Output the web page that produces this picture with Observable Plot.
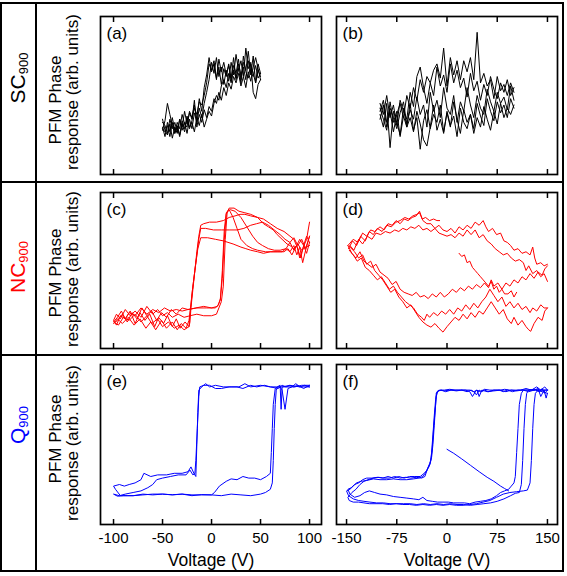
<!DOCTYPE html>
<html><head><meta charset="utf-8">
<script src="https://cdn.jsdelivr.net/npm/d3@7"></script>
<script src="https://cdn.jsdelivr.net/npm/@observablehq/plot@0.6"></script>
<style>
html,body{margin:0;padding:0;background:#fff;}
#fig{position:relative;width:567px;height:576px;font-family:"Liberation Sans",Arial,sans-serif;overflow:hidden;}
.ln{position:absolute;background:#000;}
.rot{position:absolute;transform:translate(-50%,-50%) rotate(-90deg);white-space:nowrap;line-height:1;}
.rot sub{font-size:13px;vertical-align:-3px;}
</style></head><body><div id="fig"></div>
<script>
// ---------- data ----------
const ticksNarrow = [-100, -50, 0, 50, 100];
const ticksWide = [-150, -75, 0, 75, 150];
const panelLetters = ["(a)", "(b)", "(c)", "(d)", "(e)", "(f)"];
const rowNames = ["SC", "NC", "Q"];
const rowSub = "900";
const rowColors = ["#000000", "#ff0000", "#0000ff"];
const yLine1 = "PFM Phase";
const yLine2 = "response (arb. units)";
const xTitle = "Voltage (V)";

// (a) SC900, narrow sweep
const sweepA = [-50,-47.5,-45,-42.5,-40,-37.5,-35,-32.5,-30,-27.5,-25,-22.5,-20,-17.5,-15,-12.5,-10,-7.5,-5,-2.5,0,2.5,5,7.5,10,12.5,15,17.5,20,22.5,25,27.5,30,32.5,35,37.5,40,42.5,45,47.5,50];
const a1 = [30,24,33,27,36,28,31,25,34,29,37,30,33,27,36,31,38,30,35,40,37,45,50,47,56,60,55,64,58,66,61,70,63,68,60,72,65,62,69,61,64];
const a2 = [33,31,26,35,29,33,27,35,30,40,32,39,35,42,38,46,44,50,58,70,66,72,61,68,57,67,62,70,59,69,64,73,60,71,66,78,63,75,58,70,64];
const a3 = [35,28,25,32,23,30,26,35,28,33,26,35,29,39,33,42,36,45,52,60,71,64,74,62,68,57,66,59,71,63,76,66,72,62,80,67,71,52,48,57,60];
const a4 = [29,27,31,24,33,26,30,24,32,27,36,29,34,47,30,38,33,41,36,43,40,48,45,52,47,55,50,58,54,62,58,64,56,62,55,65,59,68,74,67,60];
const a5 = [28,34,45,38,31,26,33,29,38,32,30,40,36,44,35,48,40,55,63,74,65,70,60,73,65,71,63,69,61,74,60,67,58,75,65,61,70,64,58,66,62];

// (b) SC900, wide sweep
const sweepB = [-100,-95,-90,-85,-80,-75,-70,-65,-60,-55,-50,-45,-40,-35,-30,-25,-20,-15,-10,-5,0,5,10,15,20,25,30,35,40,45,50,55,60,65,70,75,80,85,90,95,100];
const b1 = [38,30,45,17,40,33,25,42,30,36,27,40,32,22,18,30,44,28,35,26,40,31,37,24,42,33,29,38,26,36,30,43,35,28,40,32,45,36,42,38,44];
const b2 = [42,35,28,46,33,40,24,37,30,45,28,36,16,34,41,29,38,33,44,27,39,30,46,35,26,41,33,38,29,45,37,31,48,40,34,46,39,44,36,48,42];
const b3 = [45,38,50,36,44,31,47,40,35,52,43,62,68,55,45,58,50,68,56,63,52,70,58,66,55,61,49,64,53,59,47,57,50,62,54,48,58,52,60,50,55];
const b4 = [35,44,30,40,27,38,45,36,50,42,55,47,60,52,62,58,66,70,61,80,56,74,63,72,60,72,65,74,60,90,58,64,56,60,48,62,53,57,50,58,52];
const b5 = [40,47,33,42,36,29,39,46,32,41,35,49,38,44,30,52,40,47,36,55,42,38,50,33,46,40,55,44,36,50,42,38,54,46,40,52,45,49,41,56,47];

// (c) NC900 narrow sweep, [voltage, phase]
const c1 = [[100,81],[97,70],[93,64],[90,58],[87,66],[84,63],[80,68],[76,64],[72,62],[67,62],[60,62],[53,61],[47,62],[40,63],[35,64],[30,65],[22,67],[12,69],[4,70],[-4,71],[-11,71],[-14,64],[-17,50],[-20,35],[-22,22],[-23,14],[-28,12],[-33,15],[-38,13],[-44,17],[-50,14],[-55,19],[-61,16],[-66,21],[-72,17],[-78,22],[-84,18],[-90,20],[-95,15],[-100,17],[-96,20],[-92,24],[-88,19],[-84,23],[-78,21],[-72,26],[-66,22],[-60,25],[-54,23],[-48,26],[-42,24],[-36,25],[-30,24],[-24,25],[-15,26],[-5,26],[4,26],[7,28],[9,32],[11,45],[13,70],[15,86],[18,90],[23,90],[28,88],[34,87],[40,86],[47,84],[53,80],[58,78],[63,76],[67,73],[72,70],[77,67],[80,66],[84,64],[88,67],[92,63],[96,65],[100,66]];
const c2 = [[100,68],[97,72],[94,66],[91,58],[88,64],[84,70],[80,72],[74,75],[67,77],[60,80],[53,83],[47,84],[40,85],[34,86],[29,86],[24,85],[18,84],[12,82],[5,81],[-2,81],[-8,80],[-11,79],[-13,72],[-15,62],[-17,50],[-19,38],[-21,26],[-22,17],[-23,14],[-27,17],[-32,13],[-36,19],[-40,14],[-45,21],[-49,16],[-54,20],[-58,14],[-63,22],[-68,18],[-73,23],[-78,16],[-83,24],[-88,19],[-93,21],[-97,15],[-100,18],[-97,22],[-93,19],[-88,25],[-83,21],[-78,24],[-72,20],[-66,27],[-60,22],[-55,25],[-50,21],[-45,23],[-40,20],[-34,22],[-28,20],[-22,21],[-15,22],[-8,21],[0,21],[5,22],[7.5,26],[10,30],[12,40],[14,70],[16,88],[18,89],[22,84],[26,77],[30,70],[36,66],[42,64],[47,63],[55,62],[63,62],[70,62],[74,62],[78,64],[82,60],[86,65],[90,70],[94,66],[97,61],[100,68]];
const c3 = [[100,72],[96,64],[92,70],[88,66],[84,71],[80,68],[75,70],[70,73],[64,76],[58,79],[52,81],[46,80],[40,79],[33,77],[26,76],[18,76],[10,76],[2,76],[-6,77],[-11,77],[-13,70],[-16,55],[-19,40],[-21,28],[-23,18],[-26,13],[-31,16],[-35,12],[-40,17],[-46,13],[-51,18],[-57,12],[-62,17],[-67,13],[-73,19],[-79,15],[-85,20],[-91,16],[-96,19],[-100,16],[-96,18],[-91,22],[-86,17],[-81,23],[-76,19],[-71,26],[-66,21],[-61,24],[-56,18],[-51,23],[-46,20],[-41,25],[-36,22],[-30,26],[-24,25],[-16,26],[-8,27],[0,26],[6,27],[9,31],[11,50],[13,76],[15,87],[19,89],[24,88],[30,84],[36,78],[42,72],[47,68],[52,66],[58,64],[64,63],[70,63],[76,64],[80,62],[84,66],[87,60],[90,65],[93,55],[96,63],[100,72]];

// (d) NC900 wide sweep
const d1 = [[-148,66],[-140,70],[-133,68],[-126,74],[-120,72],[-114,76],[-108,75],[-100,78],[-94,76],[-88,80],[-82,79],[-76,82],[-70,80],[-64,83],[-58,82],[-52,84],[-46,85],[-41,88],[-37,83],[-32,84],[-26,82],[-20,83],[-15,82],[-11,82]];
const d2 = [[-147,64],[-141,69],[-135,66],[-129,72],[-122,69],[-116,75],[-110,73],[-104,77],[-97,75],[-90,79],[-83,78],[-76,81],[-70,82],[-63,84],[-57,83],[-51,85],[-45,86],[-41,87],[-36,82],[-30,80],[-24,80],[-18,77],[-12,79],[-6,76],[0,75],[6,77],[12,74],[18,78],[24,76],[30,79],[36,77],[42,81],[48,79],[54,82],[58,78],[62,75],[68,77],[74,73],[80,74],[85,69],[90,68],[95,66],[100,63],[106,64],[112,61],[118,62],[124,60],[128,65],[131,58],[134,54],[140,55],[145,53],[150,54]];
const d3 = [[-145,66],[-139,63],[-132,70],[-126,67],[-119,72],[-112,70],[-106,74],[-99,73],[-92,75],[-85,74],[-78,76],[-72,75],[-66,77],[-60,76],[-54,78],[-48,77],[-42,79],[-36,76],[-30,77],[-24,75],[-18,77],[-12,74],[-6,73],[0,72],[6,73],[12,71],[18,74],[24,72],[30,76],[36,73],[42,76],[48,71],[54,73],[60,69],[66,67],[72,64],[78,62],[84,60],[90,61],[96,58],[102,56],[108,57],[114,55],[118,50],[122,53],[128,48],[134,50],[140,46],[145,48],[150,43]];
const d4 = [[-148,66],[-142,61],[-136,58],[-130,62],[-124,56],[-118,54],[-112,52],[-106,54],[-100,49],[-94,47],[-88,45],[-82,41],[-76,43],[-70,38],[-64,36],[-58,35],[-52,34],[-46,36],[-40,33],[-34,34],[-28,32],[-22,35],[-16,33],[-10,36],[-4,33],[2,35],[8,38],[14,36],[20,39],[26,37],[32,40],[38,38],[44,41],[50,39],[56,42],[62,39],[66,44],[70,40],[76,42],[82,38],[88,42],[94,40],[100,44],[106,42],[112,46],[118,44],[124,48],[130,45],[136,49],[142,47],[146,51],[150,53]];
const d5 = [[-146,63],[-140,60],[-134,56],[-128,58],[-122,52],[-116,50],[-110,47],[-104,44],[-98,46],[-92,42],[-86,38],[-80,40],[-74,36],[-68,33],[-62,30],[-56,28],[-50,26],[-44,22],[-38,20],[-34,18],[-30,22],[-26,20],[-20,23],[-14,21],[-8,24],[-2,22],[4,25],[10,22],[16,26],[22,24],[28,28],[34,25],[40,29],[46,26],[52,30],[58,33],[64,38],[70,34],[76,30],[82,33],[88,27],[94,30],[100,26],[106,29],[112,25],[118,27],[124,23],[128,26],[134,24],[140,28],[145,26],[150,26]];
const d6 = [[-145,65],[-138,62],[-132,58],[-126,60],[-120,54],[-114,56],[-108,50],[-102,47],[-96,44],[-90,40],[-84,36],[-78,38],[-72,33],[-66,30],[-60,26],[-54,28],[-48,24],[-42,20],[-36,17],[-30,15],[-24,13.7],[-18,16],[-12,13],[-6,10.5],[0,14],[6,17],[12,20],[18,18],[24,22],[30,19],[36,23],[42,20],[48,24],[54,22],[60,26],[66,30],[72,26],[78,22],[84,25],[90,19],[96,16],[100,20],[106,15],[112,18],[118,14],[122,12],[125,11],[130,16],[136,20],[142,18],[146,24],[150,26]];
const d7 = [[18,61],[22,59],[26,60],[30,55],[34,56],[38,52],[42,50],[46,48],[50,46],[54,44],[58,42],[62,40],[66,43],[70,38],[74,40],[78,36],[82,38],[86,35],[91,35],[96,37],[100,33],[104,36]];

// (e) Q900 narrow sweep
const e1 = [[100,86],[95,87],[90,86],[86,88],[82,86],[78,85],[75,72],[72,84],[70,86],[66,86],[60,86],[50,87],[40,86],[34,88],[28,86],[20,86],[12,86],[4,87],[-2,86],[-6,88],[-10,86],[-13,84],[-14,70],[-15,50],[-16,30],[-18,32],[-21,36],[-24,33],[-30,32],[-38,32],[-46,31],[-55,31],[-62,30],[-69,32],[-72,28],[-78,26],[-84,25],[-89,24],[-94,25],[-100,24],[-98,22],[-93,18],[-86,18],[-80,18],[-70,19],[-60,18.5],[-50,19],[-40,18.5],[-30,19],[-20,18.5],[-10,18.5],[0,18.5],[10,18],[20,19],[30,18.5],[40,18],[50,19],[55,20],[60,22],[62,26],[63,40],[64,60],[65,75],[66,84],[68,86],[72,86],[80,87],[90,86],[100,86]];
const e2 = [[100,87],[94,85],[88,87],[84,86],[80,87],[76,86],[72,87],[70,86],[68,85],[60,86],[54,87],[46,86],[40,87],[32,85],[26,86],[18,86],[10,85],[4,85],[-2,87],[-8,87],[-12,86],[-13,80],[-14.5,60],[-16,40],[-17,32],[-19,31],[-22,34],[-26,31],[-34,31],[-42,30],[-50,29],[-56,28],[-60,25],[-65,23],[-72,21],[-80,20],[-88,19],[-94,18],[-100,19],[-96,17.7],[-90,18],[-80,18],[-70,18.5],[-60,19],[-50,19],[-40,18.6],[-30,19],[-20,18],[-10,18.7],[0,18.5],[3,20],[8,24],[15,27],[20,28.5],[26,28],[32,30],[38,29],[44,29],[50,28],[56,30],[60,32],[61,45],[62,60],[63,75],[65,85],[67,86],[70,87],[71,72],[72,86],[76,86],[85,86],[92,87],[100,87]];

// (f) Q900 wide sweep
const f1 = [[150,84],[146,82],[142,85],[138,83],[132,84],[126,84],[120,84],[112,84],[104,83.5],[96,84],[88,83],[80,84],[70,83.5],[60,83],[52,84],[48,80],[45,84],[40,83],[34,84],[28,84],[20,84],[12,84],[4,84.5],[-4,84],[-10,84],[-14,83],[-16,80],[-18,70],[-20,60],[-22,48],[-24,40],[-27,36],[-31,33],[-36,30],[-42,29],[-50,28.5],[-60,28],[-70,28],[-80,28.5],[-90,28],[-100,28],[-110,28.5],[-120,27.5],[-128,27],[-135,26],[-140,24],[-145,22],[-150,21],[-147,18],[-140,16],[-132,15],[-124,14.5],[-115,14],[-105,13.5],[-95,13.5],[-85,13],[-75,13],[-65,13],[-55,13],[-45,12.5],[-35,13],[-25,12.5],[-15,13],[-5,12.5],[5,13],[15,12.5],[25,12.5],[35,12],[45,12.5],[55,13],[65,13.5],[75,14.5],[85,16],[95,18],[102,19.5],[108,20],[111,25],[113,40],[115,60],[117,75],[119,82],[122,84],[130,84.5],[140,84],[150,84]];
const f2 = [[150,82],[148,79],[145,84],[140,80],[136,85],[130,84],[122,83],[114,84],[106,84],[98,83],[90,84],[84,83],[78,84],[70,84],[62,83],[56,84],[52,83],[48,84],[44,81],[40,83],[36,84],[30,83],[22,84],[14,83.5],[6,84],[-2,83],[-8,84],[-13,83.5],[-16,82],[-17,75],[-19,62],[-21,50],[-23,42],[-26,38],[-30,34],[-34,32],[-40,30],[-48,30],[-56,30],[-64,29],[-72,30],[-80,29],[-88,30],[-96,29],[-104,29.5],[-112,29],[-120,29],[-126,28],[-132,26],[-138,25],[-143,23],[-148,22],[-145,19],[-138,17],[-130,18],[-123,20],[-116,21],[-108,20],[-100,19],[-90,18.5],[-80,17.5],[-70,17],[-60,16.5],[-50,16],[-42,15.5],[-36,17],[-30,15],[-22,14.5],[-14,14],[-6,14],[2,14],[10,13.5],[18,13.5],[26,13.5],[34,13],[42,14],[50,14.5],[58,15],[66,16],[74,18],[80,20],[86,21],[92,22],[96,24],[100,26],[102,30],[104,45],[106,60],[108,75],[111,82],[114,84],[122,84],[132,84],[142,83],[150,82]];
const f3 = [[150,84],[146,86],[140,84],[134,86],[126,84],[118,85],[110,84],[102,84],[94,84],[86,84.5],[80,84],[72,84],[64,84],[56,84.5],[50,83],[44,84],[38,80],[34,83],[28,84],[20,84],[12,84],[4,84],[-4,83.5],[-12,84],[-15,83],[-17,78],[-19,68],[-21,56],[-23,45],[-25,38],[-29,35],[-33,30],[-38,29],[-46,29.5],[-54,29],[-62,29.5],[-70,29],[-78,30],[-86,29],[-94,29],[-102,29.5],[-110,29],[-118,28],[-124,27],[-130,25],[-136,22],[-142,20],[-148,17],[-146,15],[-140,14],[-132,14],[-124,13.5],[-116,13],[-106,13],[-96,13],[-86,12.5],[-76,13],[-66,12.5],[-56,12.5],[-46,12],[-36,12.5],[-26,12],[-16,12.5],[-6,12],[4,12.5],[14,12],[24,12],[34,12.5],[44,13],[54,14],[64,15],[74,17],[84,19],[94,20],[104,20.5],[114,21],[120,21.5],[124,26],[126,40],[128,60],[130,75],[132,82],[136,84],[144,84],[150,84]];
const f4 = [[0,47],[10,44.5],[22,41],[35,37],[48,33],[60,29.5],[70,27],[80,24],[86,22.5],[92,21]];

// ---------- layout ----------
const fig = document.getElementById("fig");
function line(l, t, w, h) {
  const d = document.createElement("div");
  d.className = "ln";
  Object.assign(d.style, {left: l + "px", top: t + "px", width: w + "px", height: h + "px"});
  fig.appendChild(d);
}
// outer border and dividers
line(0, 2, 564, 2); line(0, 570, 564, 2);
line(0, 2, 2, 570); line(562, 2, 2, 570);
line(35, 2, 2, 570);
line(0, 180.5, 564, 2); line(0, 354, 564, 2);

function rotLabel(html, cx, cy, size, color) {
  const d = document.createElement("div");
  d.className = "rot";
  d.innerHTML = html;
  Object.assign(d.style, {left: cx + "px", top: cy + "px", fontSize: size + "px", color});
  fig.appendChild(d);
}
const rowNameY = [78, 267, 425];
const line1Y = [100, 273, 439];
const line2Y = [92, 269, 443];
rowNames.forEach((n, i) => {
  rotLabel(`${n}<sub>${rowSub}</sub>`, 18, rowNameY[i], 21, rowColors[i]);
  rotLabel(yLine1, 55, line1Y[i], 17, "#000");
  rotLabel(yLine2, 72, line2Y[i], 17, "#000");
});

const pairs = (sweep, ys) => ys.map((p, i) => [sweep[i], p]);
const colX = [{left: 100, width: 221, domain: [-113.3, 112.2], ticks: ticksNarrow},
              {left: 336, width: 221, domain: [-165, 165], ticks: ticksWide}];
const rowY = [{top: 16, height: 158}, {top: 192, height: 156}, {top: 364, height: 160}];
const panels = [
  {series: [a1, a2, a3, a4, a5].map(s => pairs(sweepA, s)), color: "#000"},
  {series: [b1, b2, b3, b4, b5].map(s => pairs(sweepB, s)), color: "#000"},
  {series: [c1, c2, c3], color: "#ff0000"},
  {series: [d1, d2, d3, d4, d5, d6, d7], color: "#ff0000"},
  {series: [e1, e2], color: "#0000ff"},
  {series: [f1, f2, f3, f4], color: "#0000ff"}
];

panels.forEach((p, idx) => {
  const r = Math.floor(idx / 2), c = idx % 2;
  const cx = colX[c], ry = rowY[r];
  const bottom = r === 2;
  const mb = bottom ? 52 : 5;
  const rows = p.series.flatMap((s, k) => s.map(([v, ph]) => ({v, ph, k})));
  const marks = [
    Plot.line(rows, {x: "v", y: "ph", z: "k", stroke: p.color, strokeWidth: 1}),
    Plot.frame({stroke: "#000", strokeWidth: 1.7}),
    Plot.axisX({anchor: "bottom", ticks: cx.ticks, tickSize: -5, tickFormat: () => "", label: null, strokeWidth: 1.5}),
    Plot.axisX({anchor: "top", ticks: cx.ticks, tickSize: -5, tickFormat: () => "", label: null, strokeWidth: 1.5}),
    Plot.text([panelLetters[idx]], {frameAnchor: "top-left", dx: 6, dy: 10, lineAnchor: "top", textAnchor: "start", fontSize: 17, fill: "#000"})
  ];
  if (bottom) {
    marks.push(Plot.axisX({anchor: "bottom", ticks: cx.ticks, tickSize: 0, tickPadding: 8, fontSize: 15, label: null, fill: "#000", tickFormat: d => String(d)}));
    marks.push(Plot.text([xTitle], {frameAnchor: "bottom", dy: 41, lineAnchor: "bottom", fontSize: 17.5, fill: "#000"}));
  }
  const svg = Plot.plot({
    width: cx.width + 10, height: ry.height + 5 + mb,
    marginLeft: 5, marginRight: 5, marginTop: 5, marginBottom: mb,
    x: {domain: cx.domain},
    y: {domain: [0, 100], axis: null},
    style: {fontFamily: '"Liberation Sans", Arial, sans-serif', background: "transparent", overflow: "visible", color: "#000"},
    marks
  });
  Object.assign(svg.style, {position: "absolute", left: (cx.left - 5) + "px", top: (ry.top - 5) + "px"});
  fig.appendChild(svg);
});
</script></body></html>
